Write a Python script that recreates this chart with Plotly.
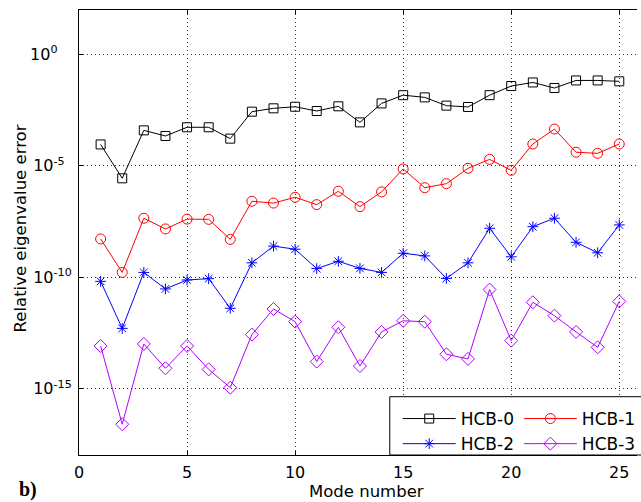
import plotly.graph_objects as go

modes = list(range(1, 26))

# log10 of relative eigenvalue error
hcb0_log = [-4.04, -5.56, -3.41, -3.66, -3.27, -3.27, -3.78, -2.57, -2.42, -2.35,
            -2.54, -2.33, -3.05, -2.20, -1.83, -1.93, -2.30, -2.36, -1.83, -1.42,
            -1.26, -1.51, -1.17, -1.17, -1.21]
hcb1_log = [-8.28, -9.78, -7.35, -7.83, -7.39, -7.40, -8.30, -6.59, -6.67, -6.41,
            -6.74, -6.14, -6.83, -6.17, -5.14, -5.98, -5.80, -5.11, -4.71, -5.20,
            -4.02, -3.35, -4.39, -4.44, -4.02]
hcb2_log = [-10.18, -12.29, -9.78, -10.52, -10.12, -10.06, -11.39, -9.35, -8.60, -8.74,
            -9.61, -9.28, -9.60, -9.78, -8.92, -9.04, -10.05, -9.35, -7.80, -9.08,
            -7.73, -7.35, -8.43, -8.90, -7.65]
hcb3_log = [-13.08, -16.59, -12.99, -14.08, -13.08, -14.13, -14.95, -12.57, -11.42, -11.99,
            -13.78, -12.24, -13.98, -12.45, -11.95, -11.99, -13.45, -13.66, -10.55, -12.84,
            -11.12, -11.72, -12.45, -13.14, -11.08]

series_names = ["HCB-0", "HCB-1", "HCB-2", "HCB-3"]
series_logs = [hcb0_log, hcb1_log, hcb2_log, hcb3_log]
colors = ["#000000", "#ff0000", "#0000ff", "#b400ff"]
symbols = ["square-open", "circle-open", "asterisk-open", "diamond-open"]
sizes = [9, 10, 9, 10]
legend_ids = ["legend", "legend2", "legend", "legend2"]

NB = "\u00a0"
y_tickvals = [1e-15, 1e-10, 1e-5, 1e0]
y_ticktext = ["10<sup>-15</sup>", "10<sup>-10</sup>", "10<sup>-5" + NB * 2 + "</sup>",
              "10<sup>0" + NB * 4 + "</sup>"]
x_tickvals = [0, 5, 10, 15, 20, 25]

W, H = 641, 502
L, R, T, B = 79, 0, 10, 47
pw, ph = W - L - R, H - T - B

def px_x(p):
    return (p - L) / pw

def px_y(p):
    return (H - B - p) / ph

fig = go.Figure()
for name, logs, c, s, sz, lg in zip(series_names, series_logs, colors, symbols, sizes, legend_ids):
    fig.add_trace(go.Scatter(
        x=modes, y=[10 ** v for v in logs], name=name, mode="lines+markers",
        line=dict(color=c, width=1),
        marker=dict(symbol=s, size=sz, color=c, line=dict(color=c, width=1)),
        legend=lg,
    ))

font_main = "DejaVu Sans, Liberation Sans, Arial, sans-serif"

fig.update_layout(
    width=W, height=H,
    margin=dict(l=L, r=R, t=T, b=B, pad=0),
    paper_bgcolor="white", plot_bgcolor="white",
    font=dict(family=font_main, size=16, color="black"),
    showlegend=True,
    legend=dict(x=px_x(400), y=px_y(401), xanchor="left", yanchor="top",
                bgcolor="rgba(0,0,0,0)", borderwidth=0, itemwidth=53,
                font=dict(size=17, family=font_main), tracegroupgap=0,
                traceorder="normal"),
    legend2=dict(x=px_x(522), y=px_y(401), xanchor="left", yanchor="top",
                 bgcolor="rgba(0,0,0,0)", borderwidth=0, itemwidth=53,
                 font=dict(size=17, family=font_main), tracegroupgap=0,
                 traceorder="normal"),
    xaxis=dict(range=[0, 25.82], tickvals=x_tickvals, ticks="inside", ticklen=4,
               tickcolor="black", showline=True, linecolor="black", linewidth=1,
               mirror="ticks", showgrid=True, gridcolor="#333333", gridwidth=1,
               griddash="1px,3px", zeroline=False, ticklabelstandoff=3,
               tickfont=dict(size=16)),
    yaxis=dict(type="log", range=[-17.97, 1.99], tickvals=y_tickvals, ticktext=y_ticktext,
               ticks="inside", ticklen=4, tickcolor="black", showline=True,
               linecolor="black", linewidth=1, mirror=False, showgrid=True,
               gridcolor="#333333", gridwidth=1, griddash="1px,3px", zeroline=False,
               ticklabelstandoff=3, tickfont=dict(size=16)),
    shapes=[dict(type="rect", xref="paper", yref="paper",
                 x0=px_x(392), x1=px_x(660), y0=0, y1=px_y(396.7),
                 line=dict(color="black", width=1), fillcolor="white", layer="above")],
    annotations=[
        dict(text="Mode number", xref="paper", yref="paper", x=px_x(369), y=px_y(491),
             xanchor="center", yanchor="middle", showarrow=False,
             font=dict(size=16.5, family=font_main)),
        dict(text="Relative eigenvalue error", xref="paper", yref="paper",
             x=px_x(20), y=px_y(228), xanchor="center", yanchor="middle",
             textangle=-90, showarrow=False, font=dict(size=16.5, family=font_main)),
        dict(text="<b>b)</b>", xref="paper", yref="paper", x=px_x(28), y=px_y(489),
             xanchor="center", yanchor="middle", showarrow=False,
             font=dict(size=20, family="Liberation Serif, Times New Roman, serif")),
    ],
)

fig.write_html("out.html")
